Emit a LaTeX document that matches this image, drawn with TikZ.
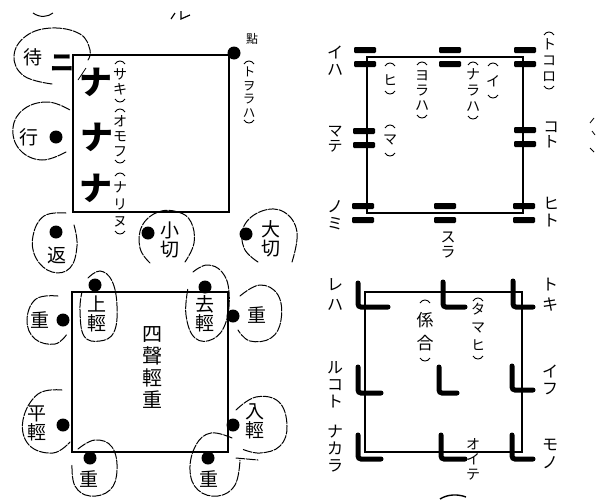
\documentclass[tikz,border=0pt]{standalone}
\usepackage{fontspec}
\newfontfamily\cjk{Noto Sans CJK JP}
\newcommand\nimark[2]{\fill[rounded corners=1.2pt] (#1-11,#2-10) rectangle (#1+11,#2-4); \fill[rounded corners=1.2pt] (#1-11,#2+4) rectangle (#1+11,#2+10);}
\newcommand\lmark[4]{\draw[lstroke] (#1,#2) -- (#1,#3) -- (#4,#3);}
\newcommand\vpar[3]{\draw[parline] (#1-5,#2+3) .. controls (#1-3,#2-1) and (#1+3,#2-1) .. (#1+5,#2+3); \draw[parline] (#1-5,#3-3) .. controls (#1-3,#3+1) and (#1+3,#3+1) .. (#1+5,#3-3);}
\begin{document}
\begin{tikzpicture}[x=1pt,y=-1pt,
  kana/.style={font=\cjk\fontsize{14}{14.5}\selectfont, align=center, inner sep=0pt},
  side/.style={font=\cjk\fontsize{16}{17}\selectfont, align=center, inner sep=0pt},
  kanji/.style={font=\cjk\fontsize{19}{20}\selectfont, align=center, inner sep=0pt},
  bigmark/.style={font=\cjk\fontsize{33}{33}\selectfont\bfseries, inner sep=0pt},
  dotm/.style={circle, fill=black, minimum size=13pt, inner sep=0pt},
  loopline/.style={line width=1pt, dash pattern=on 9pt off 1.5pt, line cap=round},
  parline/.style={line width=0.9pt},
  box/.style={draw, line width=1.2pt},
  lstroke/.style={line width=5pt, line cap=round, rounded corners=3pt},
]
\useasboundingbox (0,0) rectangle (600,501);

% ---------- top remnants ----------
\draw[line width=1pt] (33,13) .. controls (40,18) and (48,17) .. (53,13);
\draw[line width=1.2pt] (171,19) -- (175,13);
\draw[line width=1.2pt] (181,11) -- (181,19) -- (190,15);

% ---------- Panel A ----------
\draw[box] (73,55) rectangle (229,212);
\node[dotm] (dA) at (234,53) {};
\node[font=\cjk\fontsize{12}{12}\selectfont, inner sep=0pt] (tenA) at (252,39) {點};
\node[kana, font=\cjk\fontsize{12.5}{13.5}\selectfont] (towora) at (249,92) {ト\\ヲ\\ラ\\ハ};
\vpar{249}{61}{123}
\node[bigmark] (na1) at (96,82) {ナ};
\node[bigmark] (na2) at (97,137) {ナ};
\node[bigmark] (na3) at (96,188) {ナ};
\node[kana] (saki) at (120,82) {サ\\キ};
\vpar{120}{61}{102}
\node[kana, font=\cjk\fontsize{14}{15}\selectfont] (omofu) at (120,136) {オ\\モ\\フ};
\vpar{120}{109}{163}
\node[kana, font=\cjk\fontsize{14}{17}\selectfont] (narinu) at (120,204) {ナ\\リ\\ヌ};
\vpar{120}{173}{234}
\node[font=\cjk\fontsize{24}{24}\selectfont\bfseries, inner sep=0pt] (niA) at (62,63) {ニ};
\node[kanji] (matsu) at (33,57) {待};
\draw[loopline] plot[smooth, tension=0.7] coordinates {(52,84) (24,76) (14,56) (26,36) (52,28) (80,34) (90,50) (88,60)};
\draw[line width=0.8pt] (78,80) .. controls (82,74) .. (86,68);
\node[kanji] (iku) at (29,137) {行};
\node[dotm] (dIku) at (56,137) {};
\draw[loopline] plot[smooth, tension=0.7] coordinates {(66,152) (42,160) (20,150) (13,128) (24,109) (48,102) (70,110)};
\node[kanji] (kaeri) at (57,255) {返};
\node[dotm] (dKaeri) at (56,232) {};
\draw[loopline] plot[smooth, tension=0.7] coordinates {(66,213) (44,216) (33,236) (36,258) (52,272) (70,268) (77,246) (74,225)};
\node[kanji] (kogiri) at (170,240) {小\\[-1pt]切};
\node[dotm] (dKogiri) at (148,233) {};
\draw[loopline] plot[smooth, tension=0.7] coordinates {(150,263) (140,248) (142,226) (158,212) (178,212) (191,222) (194,243) (185,262)};
\node[kanji] (ogiri) at (271,239) {大\\[-1pt]切};
\node[dotm] (dOgiri) at (246,234) {};
\draw[loopline] plot[smooth, tension=0.7] coordinates {(258,262) (244,248) (244,226) (262,211) (284,212) (297,232) (292,262)};

% ---------- Panel B ----------
\draw[box] (367,57) rectangle (523,213);
\nimark{365}{57}
\nimark{450}{57}
\nimark{525}{57}
\nimark{364}{138}
\nimark{525}{137}
\nimark{363}{213}
\nimark{445}{213}
\nimark{524}{213}
\node[side] (iha) at (335,61) {イ\\ハ};
\node[side, font=\cjk\fontsize{15}{15}\selectfont] (mate) at (335,139) {マ\\テ};
\node[side] (nomi) at (335,215) {ノ\\ミ};
\node[side, font=\cjk\fontsize{15}{15}\selectfont] (sura) at (448,245) {ス\\ラ};
\node[kana, font=\cjk\fontsize{14}{16}\selectfont] (tokoro) at (549,60) {ト\\コ\\ロ};
\vpar{549}{32}{89}
\node[side, font=\cjk\fontsize{15.5}{15.5}\selectfont] (koto) at (551,135) {コ\\ト};
\node[side] (hito) at (551,212) {ヒ\\ト};
\node[kana] (hi) at (390,80) {ヒ};
\vpar{390}{63}{94}
\node[kana, font=\cjk\fontsize{14}{15}\selectfont] (yoraha) at (422,91) {ヨ\\ラ\\ハ};
\vpar{422}{62}{118}
\node[kana, font=\cjk\fontsize{14}{16}\selectfont] (naraha) at (473,90) {ナ\\ラ\\ハ};
\vpar{473}{62}{119}
\node[kana] (iB) at (493,81) {イ};
\vpar{493}{63}{98}
\node[kana] (maB) at (390,140) {マ};
\vpar{390}{125}{156}
\draw[line width=0.8pt] (594,118) -- (590,123);
\draw[line width=0.8pt] (592,131) -- (595,135);
\draw[line width=0.8pt] (590,148) -- (594,152);

% ---------- Panel C ----------
\draw[box] (72,292) rectangle (228,452);
\node[font=\cjk\fontsize{20}{22}\selectfont, align=center, inner sep=0pt] (shisei) at (152,367) {四\\聲\\輕\\重};
\node[kanji] (jokei) at (97,314) {上\\[-1pt]輕};
\node[dotm] (dJokei) at (95,285) {};
\draw[loopline] plot[smooth, tension=0.7] coordinates {(88,278) (100,271) (112,281) (117,306) (114,332) (100,341) (84,336) (80,310) (82,292)};
\node[kanji] (juL) at (40,320) {重};
\node[dotm] (dJuL) at (63,320) {};
\draw[loopline] plot[smooth, tension=0.7] coordinates {(58,296) (36,299) (27,320) (35,339) (55,344) (67,334)};
\node[kanji] (kyokei) at (205,314) {去\\[-1pt]輕};
\node[dotm] (dKyokei) at (205,287) {};
\draw[loopline] plot[smooth, tension=0.7] coordinates {(193,272) (207,265) (222,272) (229,292) (226,322) (213,339) (195,338) (186,315) (188,288)};
\node[kanji] (juR) at (257,315) {重};
\node[dotm] (dJuR) at (233,316) {};
\draw[loopline] plot[smooth, tension=0.7] coordinates {(240,296) (260,285) (278,295) (281,320) (271,338) (250,341) (238,330)};
\node[kanji] (heikei) at (37,423) {平\\[-1pt]輕};
\node[dotm] (dHeikei) at (63,425) {};
\draw[loopline] plot[smooth, tension=0.7] coordinates {(62,390) (38,394) (23,420) (29,445) (53,453) (70,442)};
\node[kanji] (juB) at (89,479) {重};
\node[dotm] (dJuB) at (90,458) {};
\draw[loopline] plot[smooth, tension=0.7] coordinates {(78,449) (95,440) (112,447) (117,470) (110,490) (90,496) (75,486) (72,465)};
\node[kanji] (nyukei) at (255,421) {入\\[-1pt]輕};
\node[dotm] (dNyukei) at (233,425) {};
\draw[loopline] plot[smooth, tension=0.7] coordinates {(236,410) (256,397) (279,402) (287,426) (280,446) (260,453) (242,449)};
\node[kanji] (juBR) at (209,479) {重};
\node[dotm] (dJuBR) at (208,458) {};
\draw[loopline] plot[smooth, tension=0.7] coordinates {(232,438) (211,433) (196,445) (190,470) (198,490) (218,496) (235,485) (240,460)};
\draw[loopline] (236,458) -- (258,460);

% ---------- Panel D ----------
\draw[box] (365,292) rectangle (522,452);
\lmark{358}{283}{307}{388}
\lmark{443}{282}{307}{465}
\lmark{513}{281}{307}{533}
\lmark{358}{367}{393}{381}
\lmark{439}{367}{393}{457}
\lmark{512}{366}{390}{533}
\lmark{358}{435}{459}{381}
\lmark{441}{435}{459}{465}
\lmark{512}{435}{459}{533}
\node[side, font=\cjk\fontsize{16}{20}\selectfont] (reha) at (335,295) {レ\\ハ};
\node[side] (rukoto) at (335,385) {ル\\コ\\ト};
\node[side] (nakara) at (335,449) {ナ\\カ\\ラ};
\node[side, font=\cjk\fontsize{16}{20}\selectfont] (toki) at (550,295) {ト\\キ};
\node[side] (ifu) at (550,380) {イ\\フ};
\node[side, font=\cjk\fontsize{16}{18}\selectfont] (mono) at (550,454) {モ\\ノ};
\node[kana, font=\cjk\fontsize{14}{15}\selectfont] (oite) at (473,459) {オ\\イ\\テ};
\node[kana, font=\cjk\fontsize{17}{23}\selectfont] (kakariai) at (425,332) {係\\合};
\vpar{425}{300}{361}
\node[kana, font=\cjk\fontsize{14}{18}\selectfont] (tamahi) at (478,327) {タ\\マ\\ヒ};
\vpar{478}{298}{359}
\draw[line width=1.4pt] (440,499) .. controls (448,494) and (458,494) .. (466,497);
\end{tikzpicture}
\end{document}
